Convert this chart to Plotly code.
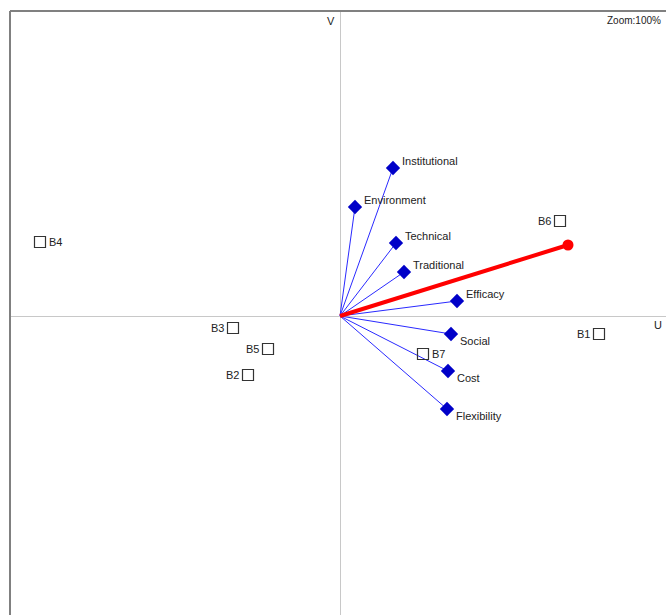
import plotly.graph_objects as go

# Attribute vectors (blue) in the U/V plane
attr_names = ["Institutional", "Environment", "Technical", "Traditional",
              "Efficacy", "Social", "Cost", "Flexibility"]
attr_u = [0.53, 0.15, 0.56, 0.64, 1.17, 1.11, 1.08, 1.07]
attr_v = [1.48, 1.09, 0.73, 0.44, 0.15, -0.18, -0.55, -0.93]

# Ideal direction (red)
ideal_u = [2.28]
ideal_v = [0.71]

# Brand positions
brand_names = ["B1", "B2", "B3", "B4", "B5", "B6", "B7"]
brand_u = [2.59, -0.92, -1.07, -3.00, -0.72, 2.20, 0.83]
brand_v = [-0.18, -0.59, -0.12, 0.74, -0.33, 0.95, -0.38]
brand_label_side = ["left", "left", "left", "right", "left", "left", "right"]

W, H = 666, 615
ML, MT = 10, 11
PX = 100.0  # pixels per unit
x_range = [-ML / PX - 3.30 + ML / PX, (W - ML) / PX - 3.30]
y_top = 3.05
y_range = [y_top - (H - MT) / PX, y_top]

FONT = "Liberation Sans, Arial, sans-serif"
TXT = "#222222"

fig = go.Figure()

# Blue vectors from the origin
for u, v in zip(attr_u, attr_v):
    fig.add_trace(go.Scatter(x=[0, u], y=[0, v], mode="lines",
                             line=dict(color="#2a2aff", width=1),
                             hoverinfo="skip", showlegend=False))
fig.add_trace(go.Scatter(x=attr_u, y=attr_v, mode="markers",
                         marker=dict(symbol="diamond", size=11, color="#0000c8"),
                         hoverinfo="skip", showlegend=False))

# Red ideal vector
fig.add_trace(go.Scatter(x=[0, ideal_u[0]], y=[0, ideal_v[0]], mode="lines",
                         line=dict(color="#ff0000", width=4),
                         hoverinfo="skip", showlegend=False))
fig.add_trace(go.Scatter(x=ideal_u, y=ideal_v, mode="markers",
                         marker=dict(symbol="circle", size=11, color="#ff0000"),
                         hoverinfo="skip", showlegend=False))

# Brands as open squares
fig.add_trace(go.Scatter(x=brand_u, y=brand_v, mode="markers",
                         marker=dict(symbol="square-open", size=11,
                                     color="#333333", line=dict(width=1.2)),
                         hoverinfo="skip", showlegend=False))

annotations = []
for name, u, v in zip(attr_names, attr_u, attr_v):
    annotations.append(dict(x=u, y=v, text=name, showarrow=False,
                            xanchor="left", yanchor="middle",
                            xshift=7, yshift=7 if v > 0 else -7,
                            font=dict(family=FONT, size=11, color=TXT)))
for name, u, v, side in zip(brand_names, brand_u, brand_v, brand_label_side):
    annotations.append(dict(x=u, y=v, text=name, showarrow=False,
                            xanchor="left" if side == "right" else "right",
                            yanchor="middle",
                            xshift=7 if side == "right" else -7,
                            font=dict(family=FONT, size=11, color=TXT)))

# Axis names and zoom indicator
annotations.append(dict(x=0, y=1, xref="x", yref="paper", text="V",
                        showarrow=False, xanchor="right", yanchor="top",
                        xshift=-3, yshift=-2,
                        font=dict(family=FONT, size=11, color=TXT)))
annotations.append(dict(x=1, y=0, xref="paper", yref="y", text="U",
                        showarrow=False, xanchor="right", yanchor="top",
                        xshift=-2, yshift=-1,
                        font=dict(family=FONT, size=11, color=TXT)))
annotations.append(dict(x=1, y=1, xref="paper", yref="paper", text="Zoom:100%",
                        showarrow=False, xanchor="right", yanchor="top",
                        xshift=-3, yshift=-2,
                        font=dict(family=FONT, size=10, color=TXT)))

shapes = [
    dict(type="line", xref="paper", yref="paper", x0=0, x1=0, y0=0, y1=1,
         line=dict(color="#808080", width=2)),
    dict(type="line", xref="paper", yref="paper", x0=0, x1=1, y0=1, y1=1,
         line=dict(color="#808080", width=2)),
]

axis_common = dict(showgrid=False, showticklabels=False, ticks="",
                   zeroline=True, zerolinecolor="#c8c8c8", zerolinewidth=1,
                   showline=False)

fig.update_layout(
    width=W, height=H,
    margin=dict(l=ML, r=0, t=MT, b=0),
    paper_bgcolor="white", plot_bgcolor="white",
    xaxis=dict(range=[-3.30, (W - ML) / PX - 3.30], **axis_common),
    yaxis=dict(range=y_range, **axis_common),
    annotations=annotations, shapes=shapes,
    showlegend=False,
)

fig.write_html("out.html")
